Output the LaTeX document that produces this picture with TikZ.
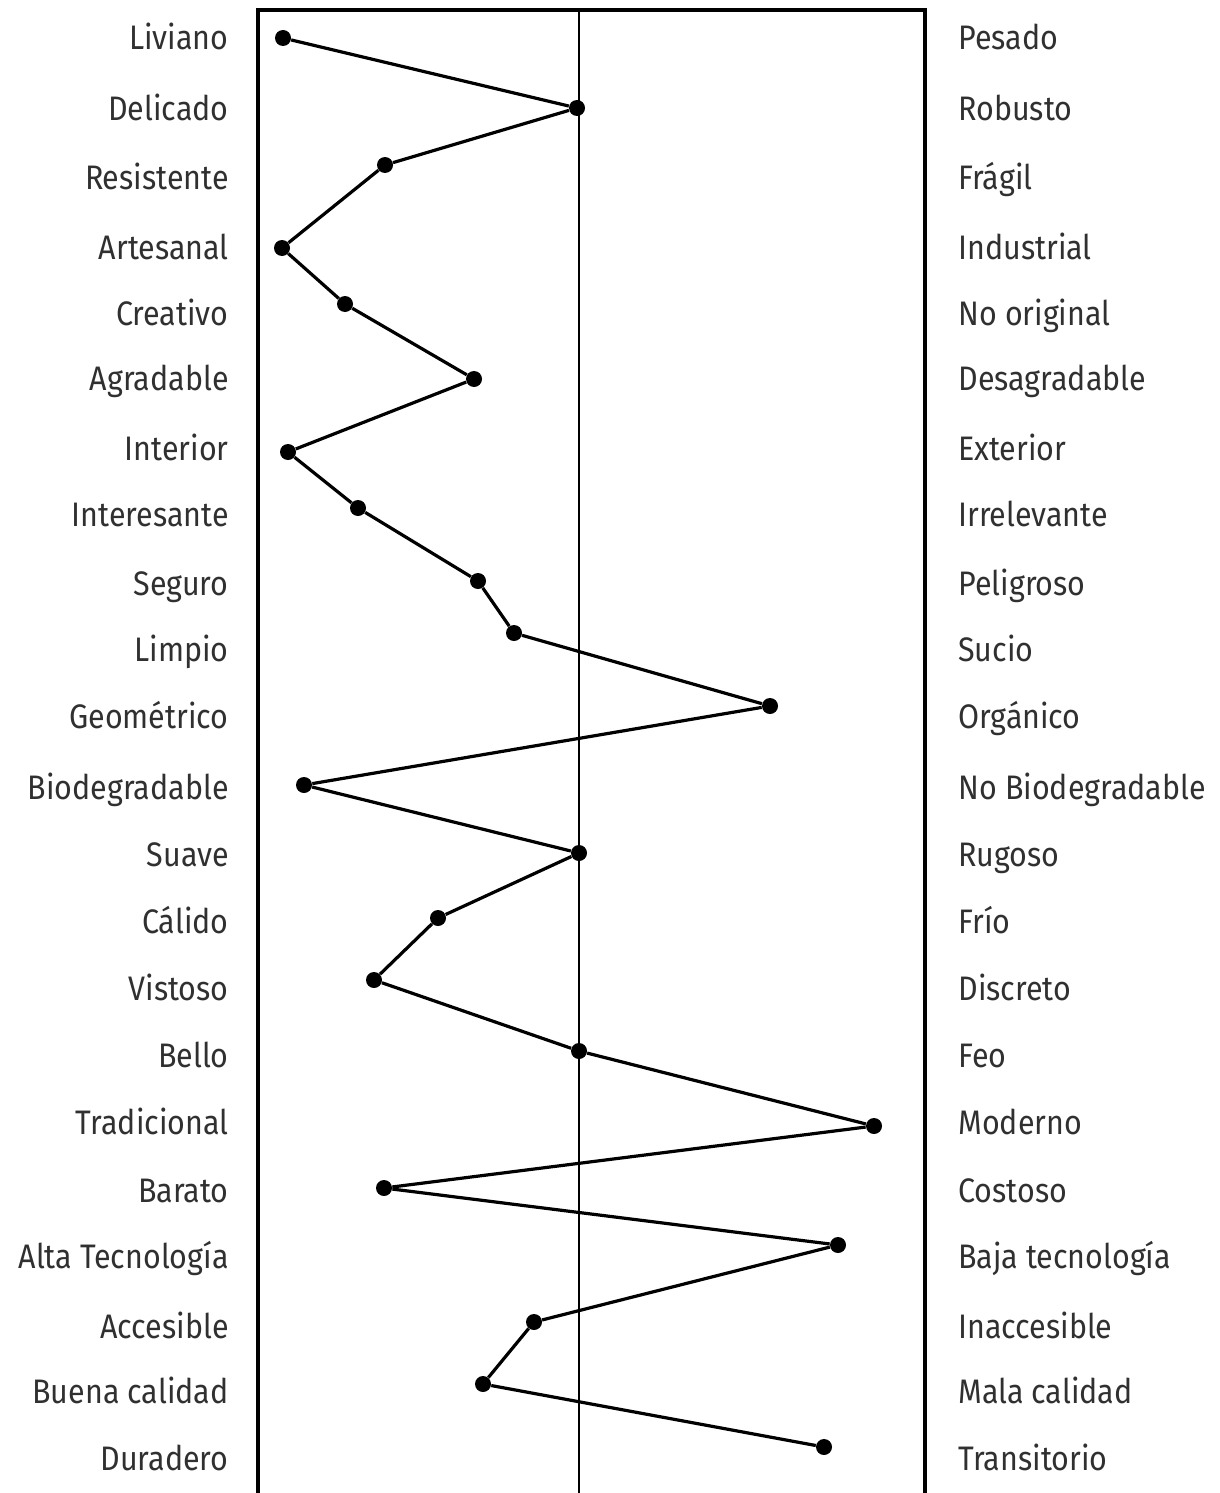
\documentclass[tikz,border=0pt]{standalone}
\usepackage{fontspec}
\setmainfont[FakeStretch=0.895]{Fira Sans}
\usetikzlibrary{positioning}
\definecolor{labelgray}{RGB}{48,48,48}

\begin{document}
\begin{tikzpicture}[x=0.5pt, y=-0.5pt, adj/.style={text=labelgray, font=\fontsize{17}{20}\selectfont, inner sep=0pt}, score/.style={circle, fill=black, inner sep=0pt, minimum size=8pt}, link/.style={line width=1.6pt}]
    \useasboundingbox (0,0) rectangle (1220,1493);

    \draw[line width=1.7pt] (258,1500) -- (258,10) -- (925,10) -- (925,1500);
    \draw[line width=1pt] (579,10) -- (579,1500);

    \foreach \adjl/\adjr/\row/\px/\py [count=\i] in {
        Liviano/Pesado/38/283/38,
        Delicado/Robusto/108/577/108,
        Resistente/Frágil/177/385/165,
        Artesanal/Industrial/247/282/248,
        Creativo/No original/313/345/304,
        Agradable/Desagradable/378/474/379,
        Interior/Exterior/448/288/452,
        Interesante/Irrelevante/514/358/508,
        Seguro/Peligroso/583/478/581,
        Limpio/Sucio/649/514/633,
        Geométrico/Orgánico/716/770/706,
        Biodegradable/No Biodegradable/787/304/785,
        Suave/Rugoso/854/579/853,
        Cálido/Frío/921/438/918,
        Vistoso/Discreto/988/374/980,
        Bello/Feo/1055/579/1051,
        Tradicional/Moderno/1122/874/1126,
        Barato/Costoso/1190/384/1188,
        Alta Tecnología/Baja tecnología/1256/838/1245,
        Accesible/Inaccesible/1326/534/1322,
        Buena calidad/Mala calidad/1391/483/1384,
        Duradero/Transitorio/1458/824/1447} {
        \node[adj, anchor=base east] (adjl\i) at (229,\row+12) {\adjl};
        \node[adj, anchor=base west] (adjr\i) at (958,\row+12) {\adjr};
        \node[score] (score\i) at (\px,\py) {};
    }

    \foreach \i [evaluate=\i as \ip using {int(\i+1)}] in {1,...,21} {
        \draw[link] (score\i) -- (score\ip);
    }
\end{tikzpicture}
\end{document}
